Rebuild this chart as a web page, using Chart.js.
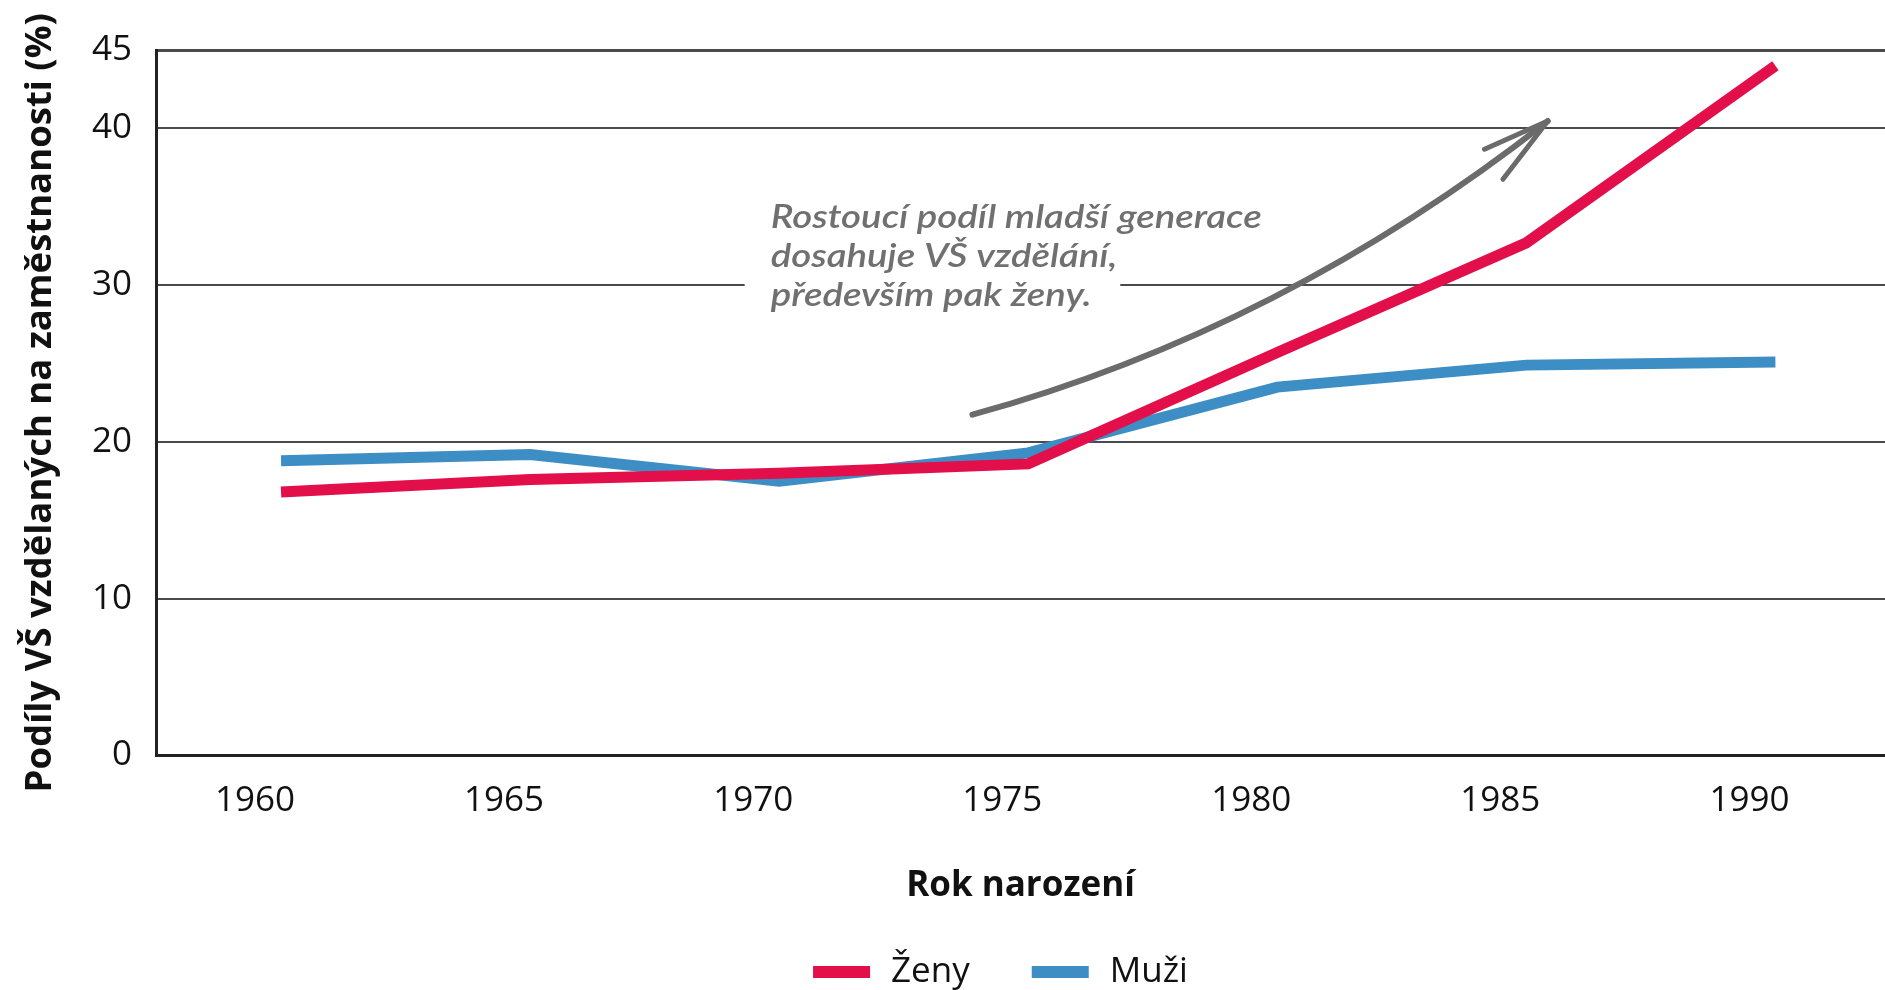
<!DOCTYPE html>
<html>
<head>
<meta charset="utf-8">
<script src="https://cdn.jsdelivr.net/npm/chart.js@4.4.1/dist/chart.umd.min.js"></script>
<style>
  html, body { margin: 0; padding: 0; background: #fff; }
  #wrap { width: 1885px; height: 990px; }
</style>
</head>
<body>
<div id="wrap"><canvas id="chart"></canvas></div>
<script>
// data
const years = [1960, 1965, 1970, 1975, 1980, 1985, 1990];
const zeny = [16.8, 17.6, 18.0, 18.6, 25.7, 32.7, 44.0];
const muzi = [18.8, 19.2, 17.5, 19.3, 23.5, 24.9, 25.1];
const seriesNames = ['Ženy', 'Muži'];
const xTicks = [1960, 1965, 1970, 1975, 1980, 1985, 1990];
const yTicks = [0, 10, 20, 30, 40, 45];
const noteLines = ['Rostoucí podíl mladší generace', 'dosahuje VŠ vzdělání,', 'především pak ženy.'];
// annotation anchor + arrow (data coordinates)
const noteAnchor = [1969.83, 33.62];
const arrowCurve = [[1973.88, 21.74], [1980.1, 27.2], [1985.43, 40.47]];
const arrowBarbs = [[1984.16, 38.67], [1984.53, 36.75]];

const RED = 'rgb(226, 15, 74)';
const BLUE = 'rgb(62, 142, 198)';
const FONT = "'Open Sans', 'DejaVu Sans', sans-serif";

const decor = {
    id: 'decor',
    beforeDatasetsDraw(chart) {
        const ctx = chart.ctx;
        const xs = chart.scales.x, ys = chart.scales.y;
        const px = v => xs.getPixelForValue(v);
        const py = v => ys.getPixelForValue(v);

        // note text with white box behind it
        ctx.save();
        ctx.font = "italic 600 33px Lato, 'DejaVu Sans', sans-serif";
        const w = noteLines.map(t => ctx.measureText(t).width);
        const sx = 491 / w[0];
        const x0 = px(noteAnchor[0]), y0 = py(noteAnchor[1]);
        const lh = 39;
        ctx.fillStyle = '#fff';
        ctx.fillRect(x0 - 26, y0 - 34, Math.max(w[1], w[2]) * sx + 29, lh * 2 + 46);
        ctx.translate(x0, y0);
        ctx.scale(sx, 1);
        ctx.fillStyle = '#707070';
        ctx.textBaseline = 'alphabetic';
        noteLines.forEach((t, i) => ctx.fillText(t, 0, i * lh));
        ctx.restore();

        // arrow
        ctx.save();
        ctx.strokeStyle = '#6b6b6b';
        ctx.lineCap = 'round';
        ctx.lineJoin = 'round';
        ctx.lineWidth = 6;
        const [a, b, c] = arrowCurve;
        ctx.beginPath();
        ctx.moveTo(px(a[0]), py(a[1]));
        ctx.quadraticCurveTo(px(b[0]), py(b[1]), px(c[0]), py(c[1]));
        ctx.stroke();
        ctx.lineWidth = 5;
        arrowBarbs.forEach(p => {
            ctx.beginPath();
            ctx.moveTo(px(c[0]), py(c[1]));
            ctx.lineTo(px(p[0]), py(p[1]));
            ctx.stroke();
        });
        ctx.restore();
    },
    afterDraw(chart) {
        // legend
        const ctx = chart.ctx;
        const area = chart.chartArea;
        ctx.save();
        ctx.font = '35px ' + FONT;
        const boxW = 57, boxH = 12, gap = 21, spacing = 62;
        const items = chart.data.datasets.map(d => ({
            label: d.label, color: d.borderColor, tw: ctx.measureText(d.label).width
        }));
        const total = items.reduce((s, it) => s + boxW + gap + it.tw, 0) + spacing * (items.length - 1);
        let x = (area.left + area.right) / 2 - 20 - total / 2;
        const cy = 972;
        ctx.textBaseline = 'middle';
        items.forEach(it => {
            ctx.fillStyle = it.color;
            ctx.fillRect(x, cy - boxH / 2, boxW, boxH);
            x += boxW + gap;
            ctx.fillStyle = '#111';
            ctx.fillText(it.label, x, cy);
            x += it.tw + spacing;
        });
        ctx.restore();
    }
};

new Chart(document.getElementById('chart'), {
    type: 'line',
    data: {
        datasets: [
            {
                label: seriesNames[0],
                data: years.map((y, i) => ({ x: y, y: zeny[i] })),
                borderColor: RED,
                backgroundColor: RED,
                borderWidth: 11,
                borderCapStyle: 'butt',
                pointRadius: 0,
                tension: 0,
                fill: false
            },
            {
                label: seriesNames[1],
                data: years.map((y, i) => ({ x: y, y: muzi[i] })),
                borderColor: BLUE,
                backgroundColor: BLUE,
                borderWidth: 11,
                borderCapStyle: 'butt',
                pointRadius: 0,
                tension: 0,
                fill: false
            }
        ]
    },
    options: {
        responsive: true,
        maintainAspectRatio: false,
        animation: false,
        layout: { padding: { top: 50, right: 0, bottom: 82, left: 0 } },
        plugins: {
            legend: { display: false },
            tooltip: { enabled: false }
        },
        scales: {
            x: {
                type: 'linear',
                min: 1957.49,
                max: 1992.2,
                afterBuildTicks: s => { s.ticks = xTicks.map(v => ({ value: v })); },
                afterFit: s => { s.height = 152.5; },
                ticks: {
                    labelOffset: -26,
                    padding: 25,
                    maxRotation: 0,
                    autoSkip: false,
                    color: '#111',
                    font: { family: FONT, size: 35 },
                    callback: v => String(v)
                },
                grid: { display: false, drawTicks: false },
                border: { display: true, color: '#222', width: 3 },
                title: {
                    display: true,
                    text: 'Rok narození',
                    color: '#111',
                    font: { family: FONT, size: 35, weight: 'bold' },
                    padding: { top: 0, bottom: 1 }
                }
            },
            y: {
                min: 0,
                max: 45,
                afterBuildTicks: s => { s.ticks = yTicks.map(v => ({ value: v })); },
                afterFit: s => { s.width = 156; },
                ticks: {
                    padding: 24,
                    color: '#111',
                    font: { family: FONT, size: 35 }
                },
                grid: {
                    color: '#4a4a4a',
                    lineWidth: c => (c.tick && c.tick.value === 45 ? 3 : 2),
                    drawTicks: false
                },
                border: { display: true, color: '#222', width: 3 },
                title: {
                    display: true,
                    text: 'Podíly VŠ vzdělaných na zaměstnanosti (%)',
                    color: '#111',
                    font: { family: FONT, size: 36.5, weight: 'bold' },
                    padding: { top: 19, bottom: 0 }
                }
            }
        }
    },
    plugins: [decor]
});
</script>
</body>
</html>
